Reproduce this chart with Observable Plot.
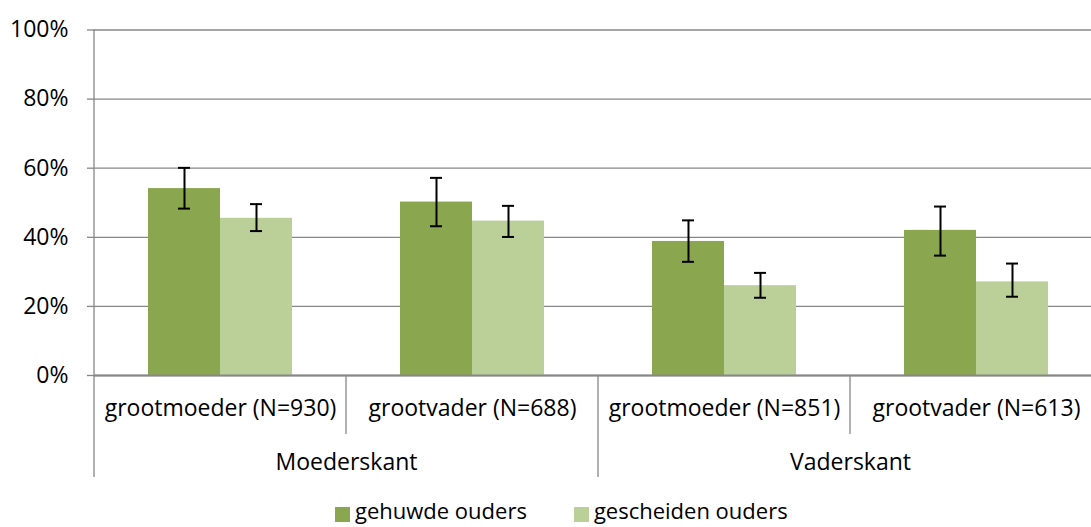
<!DOCTYPE html>
<html>
<head>
<meta charset="utf-8">
<script src="https://cdn.jsdelivr.net/npm/d3@7"></script>
<script src="https://cdn.jsdelivr.net/npm/@observablehq/plot@0.6"></script>
<style>
  html, body { margin: 0; padding: 0; background: #fff; }
  #wrap { position: relative; width: 1091px; height: 527px; overflow: hidden; font-family: "Open Sans", sans-serif; }
  #chart svg { max-width: none !important; display: block; }
  #legend { position: absolute; left: 335px; top: 495px; display: flex; align-items: flex-start; font-size: 22px; line-height: 30px; color: #000; white-space: nowrap; }
  #legend .item { display: flex; align-items: flex-start; margin-right: 47px; }
  #legend .sw { width: 15px; height: 15px; margin-top: 12px; margin-right: 5px; }
</style>
</head>
<body>
<div id="wrap"><div id="chart"></div><div id="legend"></div></div>
<script>
const categories = ["grootmoeder (N=930)", "grootvader (N=688)", "grootmoeder (N=851)", "grootvader (N=613)"];
const groupOf = ["Moederskant", "Moederskant", "Vaderskant", "Vaderskant"];
const groups = ["Moederskant", "Vaderskant"];
const series = ["gehuwde ouders", "gescheiden ouders"];
const colors = ["#8aa64f", "#bbcf99"];
const gehuwde = [54.1, 50.2, 38.8, 42.0];
const gehuwdeLo = [48.3, 43.2, 32.9, 34.7];
const gehuwdeHi = [60.1, 57.2, 44.9, 48.9];
const gescheiden = [45.5, 44.7, 26.0, 27.1];
const gescheidenLo = [41.8, 40.1, 22.5, 22.8];
const gescheidenHi = [49.6, 49.1, 29.7, 32.4];
const yTicks = [0, 20, 40, 60, 80, 100];

const data = [];
categories.forEach((c, i) => {
  data.push({cat: c, series: series[0], value: gehuwde[i], lo: gehuwdeLo[i], hi: gehuwdeHi[i]});
  data.push({cat: c, series: series[1], value: gescheiden[i], lo: gescheidenLo[i], hi: gescheidenHi[i]});
});
const catRows = categories.map(c => ({cat: c}));
const groupRows = groups.map(g => ({group: g, first: categories[groupOf.indexOf(g)]}));

const gray = "#878787";
const plot = Plot.plot({
  width: 1102,
  height: 495,
  marginLeft: 94,
  marginRight: 0,
  marginTop: 29.5,
  marginBottom: 120,
  style: {fontFamily: "'Open Sans', sans-serif", fontSize: "23px", color: "#000", background: "transparent", maxWidth: "none"},
  fx: {domain: categories, padding: 0, axis: null},
  x: {domain: series, paddingInner: 0, paddingOuter: 0.75, axis: null},
  y: {domain: [0, 100], axis: null},
  color: {domain: series, range: colors},
  marks: [
    Plot.gridY(yTicks, {stroke: gray, strokeOpacity: 1, strokeWidth: 1.3}),
    Plot.axisY(yTicks, {tickFormat: d => d + "%", tickSize: 7, tickPadding: 19, stroke: gray, strokeWidth: 1.3, fill: "#000", fontSize: 23}),
    Plot.barY(data, {fx: "cat", x: "series", y: "value", fill: "series"}),
    Plot.ruleX(data, {fx: "cat", x: "series", y1: "lo", y2: "hi", stroke: "#000", strokeWidth: 2}),
    Plot.tickY(data, {fx: "cat", x: "series", y: "lo", insetLeft: 30, insetRight: 30, stroke: "#000", strokeWidth: 2}),
    Plot.tickY(data, {fx: "cat", x: "series", y: "hi", insetLeft: 30, insetRight: 30, stroke: "#000", strokeWidth: 2}),
    Plot.ruleY([0], {stroke: gray, strokeWidth: 2}),
    Plot.text(catRows, {fx: "cat", frameAnchor: "bottom", dy: 40, text: "cat", fill: "#000", fontSize: 23}),
    Plot.text(groupRows, {fx: "first", frameAnchor: "bottom-right", textAnchor: "middle", dy: 94, text: "group", fill: "#000", fontSize: 23})
  ]
});
plot.style.maxWidth = "none";

// category / group dividers below the axis, positioned through Plot's own scales
const fx = plot.scale("fx");
const ys = plot.scale("y");
const y0 = ys.apply(0), yTop = ys.apply(100);
const svg = d3.select(plot);
const g = svg.append("g").attr("stroke", gray).attr("stroke-width", 1.3);
categories.forEach((c, i) => {
  const x = fx.apply(c);
  const isGroupStart = i === 0 || groupOf[i] !== groupOf[i - 1];
  g.append("line").attr("x1", x).attr("x2", x)
    .attr("y1", i === 0 ? yTop : y0)
    .attr("y2", isGroupStart ? y0 + 102 : y0 + 59);
});
const xEnd = fx.apply(categories[categories.length - 1]) + fx.bandwidth;
g.append("line").attr("x1", xEnd).attr("x2", xEnd).attr("y1", y0).attr("y2", y0 + 102);

document.getElementById("chart").appendChild(plot);

const legend = document.getElementById("legend");
series.forEach((s, i) => {
  const item = document.createElement("div");
  item.className = "item";
  const sw = document.createElement("span");
  sw.className = "sw";
  sw.style.background = colors[i];
  const t = document.createElement("span");
  t.textContent = s;
  item.appendChild(sw);
  item.appendChild(t);
  legend.appendChild(item);
});
</script>
</body>
</html>
